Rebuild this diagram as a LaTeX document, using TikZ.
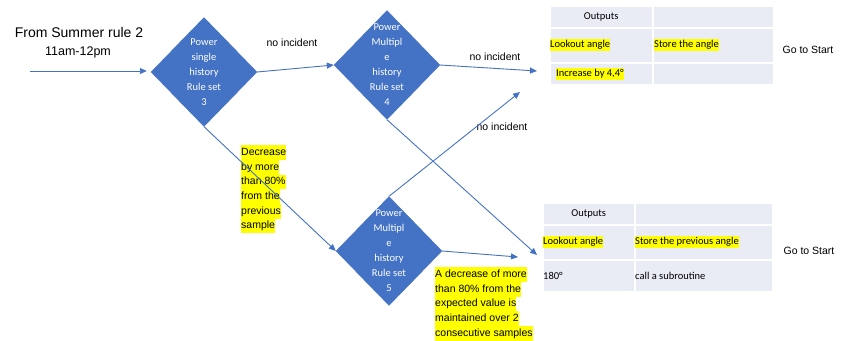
\documentclass[tikz,border=0pt]{standalone}
\usepackage{fontspec}
\setmainfont{Liberation Sans}
\newfontfamily\calfont{Carlito}
\usetikzlibrary{shapes.geometric,arrows.meta}
\definecolor{flowblue}{RGB}{68,114,196}
\definecolor{tabfill}{RGB}{233,235,245}
\definecolor{hlyellow}{RGB}{255,255,0}
\newcommand{\hlt}[1]{{\setlength{\fboxsep}{0pt}\colorbox{hlyellow}{\strut #1}}}

\begin{document}
\begin{tikzpicture}[x=1pt, y=-1pt,
      dia/.style={diamond, fill=flowblue, draw=flowblue,
                  minimum width=106pt, minimum height=109pt, inner sep=0pt},
      diatxt/.style={text=white, align=center, inner sep=0pt,
                  font=\calfont\fontsize{10.5}{15}\selectfont},
      flow/.style={draw=flowblue, line width=0.9pt,
                  -{Triangle[length=7pt,width=6pt]}},
      lbl/.style={font=\fontsize{10.5}{13}\selectfont, inner sep=0pt},
      note/.style={font=\fontsize{10.5}{14.7}\selectfont, align=left,
                  inner sep=0pt, anchor=north west},
      cell/.style={fill=tabfill, draw=white, line width=1.5pt,
                  inner sep=0pt, anchor=north west},
      tabtxt/.style={font=\calfont\fontsize{10.5}{12}\selectfont, inner sep=0pt},
    ]
    \useasboundingbox (0,0) rectangle (843,340);
    %% entry text
    \node[font=\fontsize{14}{16}\selectfont, inner sep=0pt] (from) at (79,32) {From Summer rule 2};
    \node[font=\fontsize{12.5}{14}\selectfont, inner sep=0pt] (time) at (78,52) {11am-12pm};
    %% decision diamonds
    \node[dia] (d3) at (204,72) {};
    \node[dia] (d4) at (387,65) {};
    \node[dia] (d5) at (389,251) {};
    \node[diatxt] (d3txt) at (d3) {Power\\single\\history\\Rule set\\3};
    \node[diatxt] (d4txt) at (d4) {Power\\Multipl\\e\\history\\Rule set\\4};
    \node[diatxt] (d5txt) at (d5) {Power\\Multipl\\e\\history\\Rule set\\5};
    %% output tables
    \foreach \r/\y/\h in {1/5/22, 2/27/35, 3/62/22}{
      \node[cell, minimum width=103pt, minimum height=\h pt] (t1-\r1) at (549,\y) {};
      \node[cell, minimum width=121pt, minimum height=\h pt] (t1-\r2) at (652,\y) {};
    }
    \foreach \r/\y/\h in {1/202/22, 2/224/35, 3/259/32}{
      \node[cell, minimum width=92pt, minimum height=\h pt] (t2-\r1) at (542,\y) {};
      \node[cell, minimum width=138pt, minimum height=\h pt] (t2-\r2) at (634,\y) {};
    }
    %% table entries
    \node[tabtxt] at (t1-11) {Outputs};
    \node[tabtxt, anchor=west] at ([xshift=1pt]t1-21.west) {\hlt{Lookout angle}};
    \node[tabtxt, anchor=west] at ([xshift=2pt]t1-22.west) {\hlt{Store the angle}};
    \node[tabtxt, anchor=west] at ([xshift=7pt]t1-31.west) {\hlt{Increase by 4,4°}};
    \node[tabtxt] at (t2-11) {Outputs};
    \node[tabtxt, anchor=west] at ([xshift=1pt]t2-21.west) {\hlt{Lookout angle}};
    \node[tabtxt, anchor=west] at ([xshift=1pt]t2-22.west) {\hlt{Store the previous angle}};
    \node[tabtxt, anchor=west] at ([xshift=1pt]t2-31.west) {180°};
    \node[tabtxt, anchor=west] at ([xshift=1pt]t2-32.west) {call a subroutine};
    \node[lbl] (go1) at (808,50) {Go to Start};
    \node[lbl] (go2) at (809,251) {Go to Start};
    %% condition labels
    \node[lbl] (ni1) at (292,43) {no incident};
    \node[lbl] (ni2) at (495,57) {no incident};
    \node[lbl] (ni3) at (502,127) {no incident};
    \node[note] (dec1) at (241,145)
      {\hlt{Decrease}\\\hlt{by more}\\\hlt{than 80\%}\\\hlt{from the}\\\hlt{previous}\\\hlt{sample}};
    \node[note] (dec2) at (435,267)
      {\hlt{A decrease of more}\\\hlt{than 80\% from the}\\\hlt{expected value is}\\\hlt{maintained over 2}\\\hlt{consecutive samples}};
    %% connectors
    \coordinate (start) at (30,71);
    \coordinate (t1in) at (537,71);
    \coordinate (t1low) at (520,92);
    \coordinate (t2in) at (537,255);
    \coordinate (t2low) at (518,257);
    \draw[flow] (start) -- ([xshift=-4pt]start -| d3.west);
    \draw[flow] (d3.east) -- (d4.west);
    \draw[flow] (d4.east) -- (t1in);
    \draw[flow] (d5.north) -- (t1low);
    \draw[flow] (d3.south) -- (d5.west);
    \draw[flow] (d4.south) -- (t2in);
    \draw[flow] (d5.east) -- (t2low);
    \end{tikzpicture}
\end{document}
